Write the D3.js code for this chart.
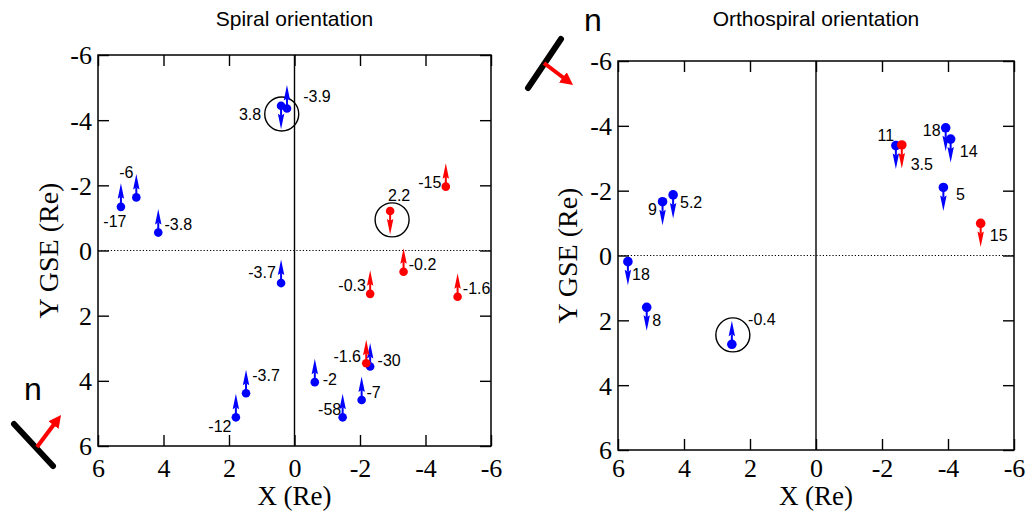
<!DOCTYPE html>
<html>
<head>
<meta charset="utf-8">
<script src="https://cdn.jsdelivr.net/npm/d3@7/dist/d3.min.js"></script>
<style>
  html, body { margin: 0; padding: 0; background: #fff; }
  svg { display: block; }
</style>
</head>
<body>
<svg id="chart" width="1026" height="517"></svg>
<script>
// ---- Spiral orientation: spacecraft positions (Re) and normal-field values ----
const spiralX  = [5.30, 4.83, 4.16, 0.41, 0.23, 0.41, 1.48, 1.79, -0.62, -2.31, -2.19, -2.05, -1.47, -4.62, -2.92, -3.33, -2.31, -4.98];
const spiralY  = [-1.34, -1.63, -0.55, -4.44, -4.36, 1.00, 4.38, 5.12, 4.04, 3.56, 3.46, 4.59, 5.12, -1.96, -1.21, 0.65, 1.33, 1.42];
const spiralBn = [-17, -6, -3.8, 3.8, -3.9, -3.7, -3.7, -12, -2, -30, -1.6, -7, -58, -15, 2.2, -0.2, -0.3, -1.6];
const spiralGroup = ["b","b","b","b","b","b","b","b","b","b","r","b","b","r","r","r","r","r"];
const spiralRingX = [0.39, -2.98];
const spiralRingY = [-4.19, -0.94];

// ---- Orthospiral orientation ----
const orthoX  = [4.65, 4.33, 5.70, 5.13, 2.55, -2.42, -2.60, -3.93, -4.08, -3.86, -4.99];
const orthoY  = [-1.66, -1.87, 0.19, 1.60, 2.74, -3.39, -3.41, -3.94, -3.59, -2.10, -0.99];
const orthoBn = [9, 5.2, 18, 8, -0.4, 11, 3.5, 18, 14, 5, 15];
const orthoGroup = ["b","b","b","b","b","b","r","b","b","b","r"];
const orthoRingX = [2.52];
const orthoRingY = [2.45];

const tickValues = [6, 4, 2, 0, -2, -4, -6];
const titles = ["Spiral orientation", "Orthospiral orientation"];

// label placement (pixel offsets of label centre from the dot)
const spiralLabelOffset = [[-6,15],[-10,-25],[20,-8],[-31,9],[30,-12],[-19,-11],[20,-18],[-16,9],[15,-3],[19,-6],[-19,-7],[12,-8],[-13,-8],[-16,-4],[9,-16],[19,-7],[-18,-8],[19,-8]];
const orthoLabelOffset = [[-10,8],[18,8],[13,13],[10,13],[30,-25],[-10,-10],[20,19],[-14,3],[18,12],[17,7],[18,12]];

const colors = { b: "#0000ff", r: "#ff0000" };
const serif = "'Liberation Serif', 'Times New Roman', serif";
const sans = "'Liberation Sans', Arial, sans-serif";
const fmt = d => String(d);

const svg = d3.select("#chart");
svg.append("rect").attr("width", 1026).attr("height", 517).attr("fill", "#fff");

function drawPanel(cfg) {
  const x = d3.scaleLinear().domain([6, -6]).range([cfg.left, cfg.right]);
  const y = d3.scaleLinear().domain([-6, 6]).range([cfg.top, cfg.bottom]);
  const g = svg.append("g");

  // zero lines
  g.append("line")
    .attr("x1", x(0)).attr("x2", x(0)).attr("y1", y(-6)).attr("y2", y(6))
    .attr("stroke", "#000").attr("stroke-width", 1.4);
  g.append("line")
    .attr("x1", x(6)).attr("x2", x(-6)).attr("y1", y(0)).attr("y2", y(0))
    .attr("stroke", "#000").attr("stroke-width", 1.2).attr("stroke-dasharray", "1.2,2");

  // axes with inward ticks on all four sides
  const tick = -11;
  const bottom = g.append("g").attr("transform", `translate(0,${cfg.bottom})`)
    .call(d3.axisBottom(x).tickValues(tickValues).tickSizeInner(tick).tickSizeOuter(0).tickPadding(cfg.xPad).tickFormat(fmt));
  const top = g.append("g").attr("transform", `translate(0,${cfg.top})`)
    .call(d3.axisTop(x).tickValues(tickValues).tickSizeInner(tick).tickSizeOuter(0).tickFormat(""));
  const left = g.append("g").attr("transform", `translate(${cfg.left},0)`)
    .call(d3.axisLeft(y).tickValues(tickValues).tickSizeInner(tick).tickSizeOuter(0).tickPadding(6).tickFormat(fmt));
  const right = g.append("g").attr("transform", `translate(${cfg.right},0)`)
    .call(d3.axisRight(y).tickValues(tickValues).tickSizeInner(tick).tickSizeOuter(0).tickFormat(""));
  [bottom, top, left, right].forEach(a => {
    a.select(".domain").remove();
    a.selectAll(".tick line").attr("stroke", "#000").attr("stroke-width", 1.4);
    a.selectAll("text").attr("font-family", serif).attr("font-size", 26).attr("fill", "#000");
  });
  left.selectAll("text").attr("dy", "0.34em");
  bottom.selectAll("text").attr("dy", "0.68em");

  // frame
  g.append("rect")
    .attr("x", cfg.left).attr("y", cfg.top)
    .attr("width", cfg.right - cfg.left).attr("height", cfg.bottom - cfg.top)
    .attr("fill", "none").attr("stroke", "#000").attr("stroke-width", 1.5);

  // rings around highlighted events
  cfg.ringX.forEach((rx, i) => {
    g.append("circle")
      .attr("cx", x(rx)).attr("cy", y(cfg.ringY[i])).attr("r", 17)
      .attr("fill", "none").attr("stroke", "#000").attr("stroke-width", 1.4);
  });

  // needles: dot plus a lance pointing up for negative Bn, down for positive
  const pts = cfg.xs.map((v, i) => ({ x: v, y: cfg.ys[i], bn: cfg.bn[i], c: colors[cfg.group[i]], off: cfg.offsets[i] }));
  const marks = g.selectAll("g.mark").data(pts).join("g")
    .attr("class", "mark")
    .attr("transform", d => `translate(${x(d.x)},${y(d.y)})`);
  marks.each(function (d) {
    const s = d.bn < 0 ? -1 : 1;
    const m = d3.select(this);
    m.append("line").attr("x1", 0).attr("y1", 0).attr("x2", 0).attr("y2", s * 10)
      .attr("stroke", d.c).attr("stroke-width", 2);
    m.append("path")
      .attr("d", `M${-3.2},${s * 8}L0,${s * 23.5}L3.2,${s * 8}L0,${s * 10}Z`)
      .attr("fill", d.c);
    m.append("circle").attr("r", cfg.dotR).attr("fill", d.c);
  });

  // value labels
  g.selectAll("text.val").data(pts).join("text")
    .attr("class", "val")
    .attr("x", d => x(d.x) + d.off[0])
    .attr("y", d => y(d.y) + d.off[1])
    .attr("dy", "0.35em")
    .attr("text-anchor", "middle")
    .attr("font-family", sans).attr("font-size", 16).attr("fill", "#000")
    .text(d => d.bn);

  // titles
  svg.append("text")
    .attr("x", (cfg.left + cfg.right) / 2).attr("y", 26)
    .attr("text-anchor", "middle")
    .attr("font-family", sans).attr("font-size", 21).attr("fill", "#000")
    .text(cfg.title);
  svg.append("text")
    .attr("x", (cfg.left + cfg.right) / 2).attr("y", 505)
    .attr("text-anchor", "middle")
    .attr("font-family", serif).attr("font-size", 27).attr("fill", "#000")
    .text("X (Re)");
  svg.append("text")
    .attr("transform", `translate(${cfg.ytitleX},${(cfg.top + cfg.bottom) / 2}) rotate(-90)`)
    .attr("text-anchor", "middle")
    .attr("font-family", serif).attr("font-size", 28).attr("fill", "#000")
    .text("Y GSE (Re)");
}

drawPanel({
  left: 98, right: 491, top: 55, bottom: 446, ytitleX: 58, dotR: 4.3, xPad: 13,
  xs: spiralX, ys: spiralY, bn: spiralBn, group: spiralGroup, offsets: spiralLabelOffset,
  ringX: spiralRingX, ringY: spiralRingY, title: titles[0]
});
drawPanel({
  left: 618, right: 1014, top: 61, bottom: 450, ytitleX: 577, dotR: 4.8, xPad: 9,
  xs: orthoX, ys: orthoY, bn: orthoBn, group: orthoGroup, offsets: orthoLabelOffset,
  ringX: orthoRingX, ringY: orthoRingY, title: titles[1]
});

// boundary-normal sketches: black boundary segment with red normal arrow
svg.append("defs").append("marker")
  .attr("id", "nhead").attr("viewBox", "0 0 10 10").attr("refX", 6).attr("refY", 5)
  .attr("markerWidth", 3.2).attr("markerHeight", 3.2).attr("orient", "auto")
  .append("path").attr("d", "M0,0L10,5L0,10Z").attr("fill", "#ff0000");

function normalIcon(bx1, by1, bx2, by2, ax1, ay1, ax2, ay2, nx, ny) {
  const g = svg.append("g");
  g.append("line").attr("x1", bx1).attr("y1", by1).attr("x2", bx2).attr("y2", by2)
    .attr("stroke", "#000").attr("stroke-width", 6).attr("stroke-linecap", "round");
  g.append("line").attr("x1", ax1).attr("y1", ay1).attr("x2", ax2).attr("y2", ay2)
    .attr("stroke", "#ff0000").attr("stroke-width", 4).attr("marker-end", "url(#nhead)");
  g.append("text").attr("x", nx).attr("y", ny)
    .attr("font-family", sans).attr("font-size", 32).attr("fill", "#000").text("n");
}
normalIcon(14, 424, 53, 466, 37, 447, 58, 419, 24, 400);
normalIcon(528, 88, 561, 39, 544, 63, 569, 82, 584, 31);
</script>
</body>
</html>
